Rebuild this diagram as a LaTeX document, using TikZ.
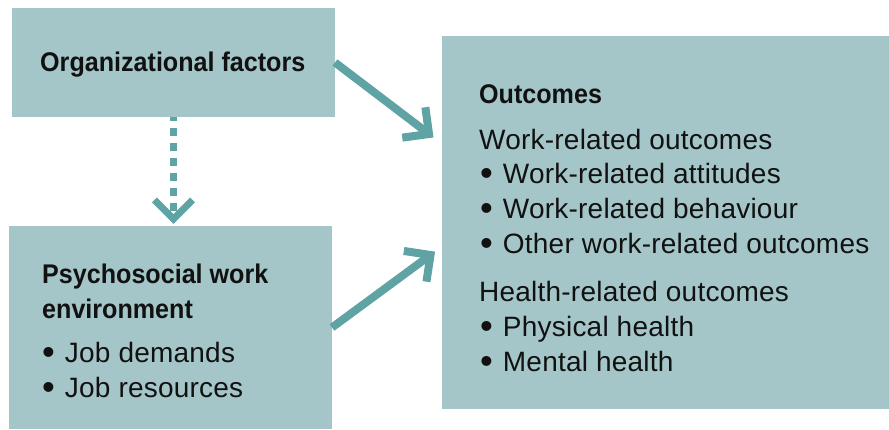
\documentclass[tikz,border=0pt]{standalone}
\usepackage{fontspec}
\setmainfont{Liberation Sans}[LetterSpace=0.8]
\newfontfamily\condsans[FakeStretch=0.93]{Liberation Sans}
\usetikzlibrary{calc}
\definecolor{boxfill}{HTML}{A5C6C8}
\definecolor{arrowcol}{HTML}{5FA3A5}
\definecolor{txt}{HTML}{111111}
\newcommand\mybul{\raisebox{-2.5pt}{\scalebox{1.3}{•}}\hspace{2pt} }
\tikzset{
  box/.style={fill=boxfill, draw=none, inner sep=0pt, outer sep=0pt},
  head/.style={text=txt, inner sep=0pt, anchor=base west, font=\condsans\bfseries\fontsize{27}{32}\selectfont},
  body/.style={text=txt, inner sep=0pt, anchor=base west, font=\fontsize{28}{34}\selectfont},
  shaft/.style={draw=arrowcol, line width=8pt, line cap=butt},
  vhead/.style={draw=arrowcol, line width=8pt, line cap=butt, line join=miter},
  dotshaft/.style={draw=arrowcol, line width=7pt, dash pattern=on 8pt off 7pt, dash phase=4pt},
  dothead/.style={draw=arrowcol, line width=7pt, line cap=butt, line join=miter},
}
\begin{document}
\begin{tikzpicture}[x=1pt,y=-1pt]
\useasboundingbox (0,0) rectangle (889,429);
% boxes
\node[box, minimum width=323pt, minimum height=109pt, anchor=north west] (org) at (12,8) {};
\node[box, minimum width=323pt, minimum height=203pt, anchor=north west] (psy) at (9,226) {};
\node[box, minimum width=447pt, minimum height=373pt, anchor=north west] (out) at (442,36) {};
% texts
\node[head] (t-org) at (40,71) {Organizational factors};
\node[head] (t-psy1) at (42,283) {Psychosocial work};
\node[head] (t-psy2) at (42,318) {environment};
\node[body] (t-psy3) at (42,362) {\mybul Job demands};
\node[body] (t-psy4) at (42,397) {\mybul Job resources};
\node[head] (t-out) at (479,103) {Outcomes};
\node[body] (t-o1) at (479,149) {Work-related outcomes};
\node[body] (t-o2) at (480,183) {\mybul Work-related attitudes};
\node[body] (t-o3) at (480,218) {\mybul Work-related behaviour};
\node[body] (t-o4) at (480,253) {\mybul Other work-related outcomes};
\node[body] (t-o5) at (479,301) {Health-related outcomes};
\node[body] (t-o6) at (480,336) {\mybul Physical health};
\node[body] (t-o7) at (480,371) {\mybul Mental health};
% arrow org -> out
\coordinate (s1) at (org.east);
\coordinate (e1) at (429,134);
\draw[shaft] (s1) -- (e1);
\draw[vhead] ($(e1)!27pt!45:(s1)$) -- (e1) -- ($(e1)!27pt!-45:(s1)$);
% arrow psy -> out
\coordinate (s2) at (psy.east);
\coordinate (e2) at (430.5,255);
\draw[shaft] (s2) -- (e2);
\draw[vhead] ($(e2)!27pt!45:(s2)$) -- (e2) -- ($(e2)!27pt!-45:(s2)$);
% dotted arrow org -> psy
\coordinate (s3) at (org.south);
\coordinate (e3) at ($(org.south |- psy.north)+(0,-7)$);
\draw[dotshaft] (s3) -- (e3);
\draw[dothead] ($(e3)!27pt!45:(s3)$) -- (e3) -- ($(e3)!27pt!-45:(s3)$);
\end{tikzpicture}
\end{document}
